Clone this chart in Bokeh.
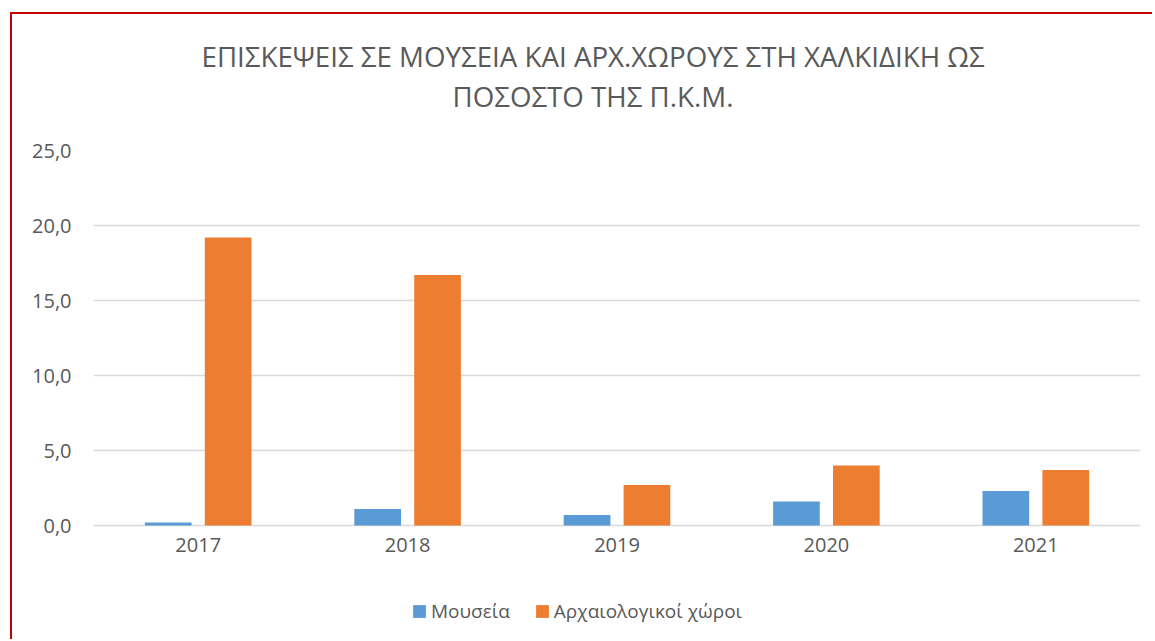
from bokeh.plotting import figure
from bokeh.models import (FactorRange, Range1d, Legend, LegendItem, Title,
                          CustomJSTickFormatter, ColumnDataSource)
from bokeh.transform import dodge
from bokeh.embed import file_html
from bokeh.resources import INLINE

years = ["2017", "2018", "2019", "2020", "2021"]
mouseia = [0.2, 1.1, 0.7, 1.6, 2.3]
archaiologikoi = [19.2, 16.7, 2.7, 4.0, 3.7]
series_names = ["Μουσεία", "Αρχαιολογικοί χώροι"]
title_line1 = "ΕΠΙΣΚΕΨΕΙΣ ΣΕ ΜΟΥΣΕΙΑ ΚΑΙ ΑΡΧ.ΧΩΡΟΥΣ ΣΤΗ ΧΑΛΚΙΔΙΚΗ ΩΣ"
title_line2 = "ΠΟΣΟΣΤΟ ΤΗΣ Π.Κ.Μ."
y_ticks = [0, 5, 10, 15, 20, 25]

FONT = "Open Sans"
TXT = "#595959"
BLUE = "#5B9BD5"
ORANGE = "#ED7D31"

src = ColumnDataSource(dict(year=years, m=mouseia, a=archaiologikoi))

# frame extends below zero so the legend can sit inside it (15 px per unit)
p = figure(x_range=FactorRange(*years, range_padding=0), y_range=Range1d(-7.6, 25),
           frame_width=1047, frame_height=489,
           output_backend="svg", toolbar_location=None,
           min_border_left=81, min_border_right=12, min_border_top=136,
           min_border_bottom=0, title=None)
p.styles = {"border-left": "2px solid #C00000", "border-top": "2px solid #C00000",
            "margin-left": "10px", "margin-top": "12px"}
p.outline_line_color = None
p.background_fill_color = "white"
p.border_fill_color = "white"

r1 = p.vbar(x=dodge("year", -0.143, range=p.x_range), top="m", width=0.223,
            source=src, fill_color=BLUE, line_color=None)
r2 = p.vbar(x=dodge("year", 0.143, range=p.x_range), top="a", width=0.223,
            source=src, fill_color=ORANGE, line_color=None)

spacer = Title(text=" ", text_font=FONT, text_font_size="1px", standoff=33)
t2 = Title(text=title_line2, align="left", text_font=FONT, text_font_size="27.7px",
           text_color=TXT, text_font_style="normal", standoff=0, offset=359)
t1 = Title(text=title_line1, align="left", text_font=FONT, text_font_size="27.7px",
           text_color=TXT, text_font_style="normal", standoff=0, offset=108)
p.add_layout(spacer, "above")
p.add_layout(t2, "above")
p.add_layout(t1, "above")

p.xgrid.grid_line_color = None
p.ygrid.grid_line_color = "#D9D9D9"
p.ygrid.grid_line_width = 1.3
p.yaxis.ticker = y_ticks
p.yaxis.formatter = CustomJSTickFormatter(code="return tick.toFixed(1).replace('.', ',');")
p.xaxis.fixed_location = 0

for ax in (p.xaxis[0], p.yaxis[0]):
    ax.axis_line_color = None
    ax.major_tick_line_color = None
    ax.minor_tick_line_color = None
    ax.major_tick_out = 0
    ax.major_tick_in = 0
    ax.major_label_text_font = FONT
    ax.major_label_text_font_size = "20px"
    ax.major_label_text_color = TXT
p.yaxis.major_label_standoff = 22
p.xaxis.major_label_standoff = 12

legend = Legend(items=[LegendItem(label=series_names[0], renderers=[r1]),
                       LegendItem(label=series_names[1], renderers=[r2])],
                orientation="horizontal", location=(318, 15),
                label_text_font=FONT, label_text_font_size="19px",
                label_text_color=TXT, glyph_width=16, glyph_height=16,
                label_standoff=4, spacing=24, border_line_color=None,
                background_fill_color=None, background_fill_alpha=0,
                padding=0, margin=0)
p.add_layout(legend, "center")

open("out.html", "w").write(file_html(p, INLINE))
